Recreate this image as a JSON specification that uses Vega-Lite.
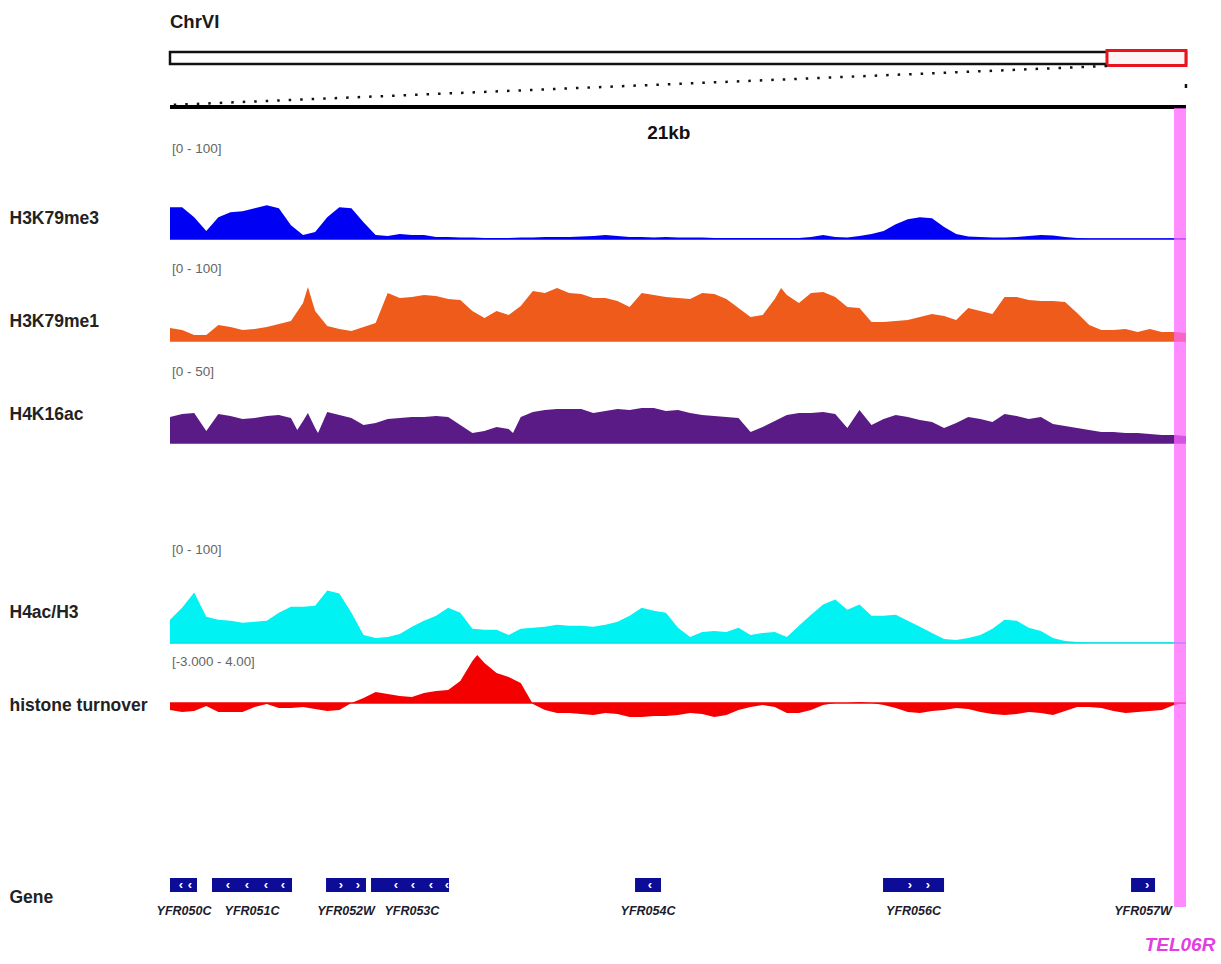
{
"$schema": "https://vega.github.io/schema/vega-lite/v6.json",
"padding": {"left": 9, "top": 0, "right": 0, "bottom": 0},
"spacing": 0,
"bounds": "flush",
"background": "white",
"datasets": {
"chrom": [{"chrom": "ChrVI", "start": 0, "end": 270161}],
"view": [{"start": 249150, "end": 270150}],
"telomere": [{"feature": "TEL06R", "start": 269903, "end": 270150, "mid": 270026}],
"genes": [
{"name": "YFR050C", "start": 249150, "end": 249708, "mid": 249440},
{"name": "YFR051C", "start": 250018, "end": 251672, "mid": 250845},
{"name": "YFR052W", "start": 252375, "end": 253201, "mid": 252788},
{"name": "YFR053C", "start": 253305, "end": 254917, "mid": 254150},
{"name": "YFR054C", "start": 258762, "end": 259299, "mid": 259030},
{"name": "YFR056C", "start": 263888, "end": 265149, "mid": 264518},
{"name": "YFR057W", "start": 269014, "end": 269510, "mid": 269262}
],
"arrows": [
{"gene": "YFR050C", "pos": 249377, "strand": "-"},
{"gene": "YFR050C", "pos": 249563, "strand": "-"},
{"gene": "YFR051C", "pos": 250349, "strand": "-"},
{"gene": "YFR051C", "pos": 250742, "strand": "-"},
{"gene": "YFR051C", "pos": 251134, "strand": "-"},
{"gene": "YFR051C", "pos": 251486, "strand": "-"},
{"gene": "YFR052W", "pos": 252685, "strand": "+"},
{"gene": "YFR052W", "pos": 253036, "strand": "+"},
{"gene": "YFR053C", "pos": 253821, "strand": "-"},
{"gene": "YFR053C", "pos": 254173, "strand": "-"},
{"gene": "YFR053C", "pos": 254545, "strand": "-"},
{"gene": "YFR053C", "pos": 254876, "strand": "-"},
{"gene": "YFR054C", "pos": 259072, "strand": "-"},
{"gene": "YFR056C", "pos": 264446, "strand": "+"},
{"gene": "YFR056C", "pos": 264818, "strand": "+"},
{"gene": "YFR057W", "pos": 269345, "strand": "+"}
],
"signal": [
{"pos":249150,"H3K79me3":32,"H3K79me1":16.3,"H4K16ac":16.5,"H4ac_H3":23,"turnover":-0.58},
{"pos":249400,"H3K79me3":32,"H3K79me1":13.8,"H4K16ac":18.4,"H4ac_H3":35,"turnover":-0.75},
{"pos":249650,"H3K79me3":22,"H3K79me1":7.5,"H4K16ac":19,"H4ac_H3":50,"turnover":-0.67},
{"pos":249900,"H3K79me3":8,"H3K79me1":7.5,"H4K16ac":7.6,"H4ac_H3":26,"turnover":-0.25},
{"pos":250150,"H3K79me3":22,"H3K79me1":20,"H4K16ac":18.4,"H4ac_H3":23,"turnover":-0.75},
{"pos":250400,"H3K79me3":27,"H3K79me1":17.5,"H4K16ac":17.1,"H4ac_H3":22,"turnover":-0.75},
{"pos":250650,"H3K79me3":28,"H3K79me1":13.8,"H4K16ac":15.2,"H4ac_H3":20,"turnover":-0.75},
{"pos":250900,"H3K79me3":31,"H3K79me1":15,"H4K16ac":15.8,"H4ac_H3":21,"turnover":-0.33},
{"pos":251150,"H3K79me3":34,"H3K79me1":17.5,"H4K16ac":17.1,"H4ac_H3":22,"turnover":-0.08},
{"pos":251400,"H3K79me3":31,"H3K79me1":21.3,"H4K16ac":17.7,"H4ac_H3":30,"turnover":-0.42},
{"pos":251650,"H3K79me3":14,"H3K79me1":25,"H4K16ac":15.8,"H4ac_H3":36,"turnover":-0.42},
{"pos":251780,"H4K16ac":8.2},
{"pos":251900,"H3K79me3":4,"H3K79me1":47.5,"H4K16ac":13.9,"H4ac_H3":36,"turnover":-0.33},
{"pos":252000,"H3K79me1":67.5,"H4K16ac":19},
{"pos":252150,"H3K79me3":7,"H3K79me1":37.5,"H4K16ac":9.5,"H4ac_H3":37,"turnover":-0.5},
{"pos":252210,"H4K16ac":6.3},
{"pos":252400,"H3K79me3":22,"H3K79me1":18.8,"H4K16ac":19.6,"H4ac_H3":52,"turnover":-0.67},
{"pos":252650,"H3K79me3":32,"H3K79me1":15,"H4K16ac":17.7,"H4ac_H3":49,"turnover":-0.58},
{"pos":252900,"H3K79me3":31,"H3K79me1":12.5,"H4K16ac":15.8,"H4ac_H3":30,"turnover":0},
{"pos":253150,"H3K79me3":17,"H3K79me1":17.5,"H4K16ac":11.4,"H4ac_H3":8,"turnover":0.42},
{"pos":253400,"H3K79me3":4,"H3K79me1":22.5,"H4K16ac":12.7,"H4ac_H3":5,"turnover":0.92},
{"pos":253650,"H3K79me3":3,"H3K79me1":60,"H4K16ac":15.2,"H4ac_H3":6,"turnover":0.75},
{"pos":253900,"H3K79me3":5,"H3K79me1":53.8,"H4K16ac":15.8,"H4ac_H3":9,"turnover":0.58},
{"pos":254150,"H3K79me3":4,"H3K79me1":55,"H4K16ac":16.5,"H4ac_H3":16,"turnover":0.5},
{"pos":254400,"H3K79me3":4,"H3K79me1":57.5,"H4K16ac":16.5,"H4ac_H3":22,"turnover":0.83},
{"pos":254650,"H3K79me3":2,"H3K79me1":56.3,"H4K16ac":17.1,"H4ac_H3":27,"turnover":1},
{"pos":254900,"H3K79me3":2,"H3K79me1":52.5,"H4K16ac":16.5,"H4ac_H3":35,"turnover":1.08},
{"pos":255150,"H3K79me3":1.5,"H3K79me1":51.3,"H4K16ac":11.4,"H4ac_H3":30,"turnover":1.83},
{"pos":255400,"H3K79me3":1.5,"H3K79me1":37.5,"H4K16ac":6.3,"H4ac_H3":14,"turnover":3.5},
{"pos":255500,"turnover":4.0},
{"pos":255650,"H3K79me3":1,"H3K79me1":28.8,"H4K16ac":7.6,"H4ac_H3":13,"turnover":3.33},
{"pos":255900,"H3K79me3":1,"H3K79me1":37.5,"H4K16ac":10.1,"H4ac_H3":13,"turnover":2.5},
{"pos":256150,"H3K79me3":1,"H3K79me1":32.5,"H4K16ac":8.9,"H4ac_H3":8,"turnover":2.17},
{"pos":256240,"H4K16ac":6.3},
{"pos":256400,"H3K79me3":1.5,"H3K79me1":43.8,"H4K16ac":16.5,"H4ac_H3":14,"turnover":1.67},
{"pos":256650,"H3K79me3":1.5,"H3K79me1":62.5,"H4K16ac":19.6,"H4ac_H3":15,"turnover":-0.08},
{"pos":256900,"H3K79me3":2,"H3K79me1":60,"H4K16ac":20.9,"H4ac_H3":16,"turnover":-0.58},
{"pos":257150,"H3K79me3":2,"H3K79me1":66.3,"H4K16ac":21.5,"H4ac_H3":18,"turnover":-0.83},
{"pos":257400,"H3K79me3":2,"H3K79me1":60,"H4K16ac":21.5,"H4ac_H3":17,"turnover":-0.83},
{"pos":257650,"H3K79me3":2.5,"H3K79me1":58.8,"H4K16ac":21.5,"H4ac_H3":17,"turnover":-0.92},
{"pos":257900,"H3K79me3":3,"H3K79me1":53.8,"H4K16ac":19,"H4ac_H3":16,"turnover":-1},
{"pos":258150,"H3K79me3":4,"H3K79me1":53.8,"H4K16ac":20.3,"H4ac_H3":18,"turnover":-0.83},
{"pos":258400,"H3K79me3":3,"H3K79me1":50,"H4K16ac":21.5,"H4ac_H3":21,"turnover":-0.92},
{"pos":258650,"H3K79me3":2,"H3K79me1":42.5,"H4K16ac":20.9,"H4ac_H3":27,"turnover":-1.17},
{"pos":258900,"H3K79me3":2,"H3K79me1":60,"H4K16ac":22.2,"H4ac_H3":35,"turnover":-1.17},
{"pos":259150,"H3K79me3":1.5,"H3K79me1":57.5,"H4K16ac":22.2,"H4ac_H3":32,"turnover":-1.08},
{"pos":259400,"H3K79me3":2,"H3K79me1":55,"H4K16ac":20.3,"H4ac_H3":30,"turnover":-1.08},
{"pos":259650,"H3K79me3":1.5,"H3K79me1":53.8,"H4K16ac":20.9,"H4ac_H3":15,"turnover":-1},
{"pos":259900,"H3K79me3":1.5,"H3K79me1":52.5,"H4K16ac":19,"H4ac_H3":6,"turnover":-0.83},
{"pos":260150,"H3K79me3":1.5,"H3K79me1":60,"H4K16ac":17.7,"H4ac_H3":11,"turnover":-0.92},
{"pos":260400,"H3K79me3":1,"H3K79me1":58.8,"H4K16ac":17.1,"H4ac_H3":12,"turnover":-1.17},
{"pos":260650,"H3K79me3":1,"H3K79me1":52.5,"H4K16ac":16.5,"H4ac_H3":11,"turnover":-1},
{"pos":260900,"H3K79me3":1,"H3K79me1":41.3,"H4K16ac":15.8,"H4ac_H3":15,"turnover":-0.58},
{"pos":261150,"H3K79me3":1,"H3K79me1":30,"H4K16ac":7,"H4ac_H3":8,"turnover":-0.33},
{"pos":261400,"H3K79me3":1,"H3K79me1":32.5,"H4K16ac":10.1,"H4ac_H3":10,"turnover":-0.17},
{"pos":261650,"H3K79me3":1,"H3K79me1":52.5,"H4K16ac":13.9,"H4ac_H3":11,"turnover":-0.33},
{"pos":261780,"H3K79me1":66.3},
{"pos":261900,"H3K79me3":1,"H3K79me1":57.5,"H4K16ac":17.7,"H4ac_H3":6,"turnover":-0.83},
{"pos":262150,"H3K79me3":1,"H3K79me1":47.5,"H4K16ac":19,"H4ac_H3":17,"turnover":-0.83},
{"pos":262400,"H3K79me3":2,"H3K79me1":60,"H4K16ac":19,"H4ac_H3":28,"turnover":-0.58},
{"pos":262650,"H3K79me3":4,"H3K79me1":61.3,"H4K16ac":19.6,"H4ac_H3":38,"turnover":-0.17},
{"pos":262900,"H3K79me3":2,"H3K79me1":55,"H4K16ac":18.4,"H4ac_H3":43,"turnover":0},
{"pos":263150,"H3K79me3":1.5,"H3K79me1":42.5,"H4K16ac":9.5,"H4ac_H3":33,"turnover":0},
{"pos":263400,"H3K79me3":3,"H3K79me1":41.3,"H4K16ac":20.9,"H4ac_H3":38,"turnover":0.08},
{"pos":263650,"H3K79me3":5,"H3K79me1":23.8,"H4K16ac":11.4,"H4ac_H3":27,"turnover":0},
{"pos":263900,"H3K79me3":8,"H3K79me1":23.8,"H4K16ac":15.2,"H4ac_H3":27,"turnover":-0.17},
{"pos":264150,"H3K79me3":15,"H3K79me1":25,"H4K16ac":17.7,"H4ac_H3":28,"turnover":-0.42},
{"pos":264400,"H3K79me3":20,"H3K79me1":26.3,"H4K16ac":16.5,"H4ac_H3":22,"turnover":-0.75},
{"pos":264650,"H3K79me3":22,"H3K79me1":30,"H4K16ac":14.6,"H4ac_H3":16,"turnover":-0.83},
{"pos":264900,"H3K79me3":21,"H3K79me1":33.8,"H4K16ac":13.3,"H4ac_H3":10,"turnover":-0.67},
{"pos":265150,"H3K79me3":12,"H3K79me1":31.3,"H4K16ac":9.5,"H4ac_H3":4,"turnover":-0.58},
{"pos":265400,"H3K79me3":5,"H3K79me1":26.3,"H4K16ac":12.7,"H4ac_H3":3,"turnover":-0.42},
{"pos":265650,"H3K79me3":2.5,"H3K79me1":41.3,"H4K16ac":16.5,"H4ac_H3":5,"turnover":-0.5},
{"pos":265900,"H3K79me3":2,"H3K79me1":37.5,"H4K16ac":15.2,"H4ac_H3":8,"turnover":-0.75},
{"pos":266150,"H3K79me3":1.5,"H3K79me1":33.8,"H4K16ac":13.3,"H4ac_H3":14,"turnover":-0.92},
{"pos":266400,"H3K79me3":1.5,"H3K79me1":55,"H4K16ac":18.4,"H4ac_H3":23,"turnover":-1},
{"pos":266650,"H3K79me3":2,"H3K79me1":55,"H4K16ac":17.1,"H4ac_H3":22,"turnover":-0.92},
{"pos":266900,"H3K79me3":3,"H3K79me1":51.3,"H4K16ac":15.2,"H4ac_H3":15,"turnover":-0.75},
{"pos":267150,"H3K79me3":4,"H3K79me1":50,"H4K16ac":16.5,"H4ac_H3":12,"turnover":-0.83},
{"pos":267400,"H3K79me3":3.5,"H3K79me1":50,"H4K16ac":12,"H4ac_H3":5,"turnover":-1},
{"pos":267650,"H3K79me3":2,"H3K79me1":48.8,"H4K16ac":10.8,"H4ac_H3":2,"turnover":-0.67},
{"pos":267900,"H3K79me3":1,"H3K79me1":35,"H4K16ac":9.5,"H4ac_H3":1,"turnover":-0.33},
{"pos":268150,"H3K79me3":0.5,"H3K79me1":20,"H4K16ac":8.2,"H4ac_H3":0.5,"turnover":-0.33},
{"pos":268400,"H3K79me3":0.5,"H3K79me1":13.8,"H4K16ac":7,"H4ac_H3":0.5,"turnover":-0.42},
{"pos":268650,"H3K79me3":0.5,"H3K79me1":13.8,"H4K16ac":7,"H4ac_H3":0.5,"turnover":-0.67},
{"pos":268900,"H3K79me3":0.5,"H3K79me1":15,"H4K16ac":6.3,"H4ac_H3":0.5,"turnover":-0.83},
{"pos":269150,"H3K79me3":0.5,"H3K79me1":11.3,"H4K16ac":6.3,"H4ac_H3":0.5,"turnover":-0.75},
{"pos":269400,"H3K79me3":0.5,"H3K79me1":15,"H4K16ac":5.7,"H4ac_H3":0.5,"turnover":-0.67},
{"pos":269650,"H3K79me3":0.5,"H3K79me1":11.3,"H4K16ac":5.1,"H4ac_H3":0.5,"turnover":-0.58},
{"pos":269900,"H3K79me3":0.5,"H3K79me1":11.3,"H4K16ac":5.1,"H4ac_H3":0.5,"turnover":-0.17},
{"pos":270150,"H3K79me3":0.5,"H3K79me1":10,"H4K16ac":4.4,"H4ac_H3":0.5,"turnover":0}
]
},
"vconcat": [
{
"width": 1016, "height": 108,
"layer": [
{"data": {"name": "chrom"}, "mark": {"type": "text", "align": "left", "baseline": "middle", "fontSize": 18.5, "fontWeight": "bold", "color": "#1a1a1a"},
 "encoding": {"x": {"field": "start", "type": "quantitative", "scale": {"domain": [0, 270161], "nice": false, "zero": false}, "axis": null},
  "y": {"datum": 22, "scale": {"domain": [0, 108], "reverse": true, "nice": false, "zero": false}, "axis": null},
  "text": {"field": "chrom"}}},
{"data": {"name": "chrom"}, "mark": {"type": "rect", "fill": "white", "stroke": "#111111", "strokeWidth": 2.5},
 "encoding": {"x": {"field": "start", "type": "quantitative", "scale": {"domain": [0, 270161], "nice": false, "zero": false}, "axis": null}, "x2": {"field": "end"},
  "y": {"datum": 52, "scale": {"domain": [0, 108], "reverse": true, "nice": false, "zero": false}, "axis": null}, "y2": {"datum": 64}}},
{"data": {"name": "view"}, "mark": {"type": "rect", "fill": "#fff4f4", "stroke": "#e8141c", "strokeWidth": 3},
 "encoding": {"x": {"field": "start", "type": "quantitative", "scale": {"domain": [0, 270161], "nice": false, "zero": false}, "axis": null}, "x2": {"field": "end"},
  "y": {"datum": 50.5, "scale": {"domain": [0, 108], "reverse": true, "nice": false, "zero": false}, "axis": null}, "y2": {"datum": 65.5}}},
{"data": {"name": "view"}, "mark": {"type": "rule", "color": "#111111", "strokeWidth": 2.5, "strokeDash": [2.5, 9]},
 "encoding": {"x": {"field": "start", "type": "quantitative", "scale": {"domain": [0, 270161], "nice": false, "zero": false}, "axis": null}, "x2": {"datum": 0},
  "y": {"datum": 66, "scale": {"domain": [0, 108], "reverse": true, "nice": false, "zero": false}, "axis": null}, "y2": {"datum": 105}}},
{"data": {"name": "view"}, "mark": {"type": "rule", "color": "#111111", "strokeWidth": 2.5, "strokeDash": [4, 30]},
 "encoding": {"x": {"field": "end", "type": "quantitative", "scale": {"domain": [0, 270161], "nice": false, "zero": false}, "axis": null},
  "y": {"datum": 84, "scale": {"domain": [0, 108], "reverse": true, "nice": false, "zero": false}, "axis": null}, "y2": {"datum": 104}}},
{"data": {"name": "chrom"}, "mark": {"type": "rule", "color": "#000000", "strokeWidth": 4},
 "encoding": {"x": {"field": "start", "type": "quantitative", "scale": {"domain": [0, 270161], "nice": false, "zero": false}, "axis": null}, "x2": {"field": "end"},
  "y": {"datum": 107, "scale": {"domain": [0, 108], "reverse": true, "nice": false, "zero": false}, "axis": null}}}
]
},
{
"width": 1016, "height": 131,
"data": {"name": "signal"},
"layer": [
{"mark": {"type": "area", "color": "#0000f5", "invalid": "filter"},
 "encoding": {"x": {"field": "pos", "type": "quantitative", "scale": {"domain": [249150, 270150], "nice": false, "zero": false}, "axis": null},
  "y": {"field": "H3K79me3", "type": "quantitative", "scale": {"domain": [0, 132.3], "nice": false}, "axis": {"title": "H3K79me3", "titleY": 110}},
  "y2": {"datum": 0}}},
{"data": {"values": [{}]}, "mark": {"type": "rule", "color": "#0000f5", "strokeWidth": 1.5},
 "encoding": {"y": {"datum": 0, "scale": {"domain": [0, 132.3], "nice": false}}}},
{"data": {"values": [{"range": "[0 - 100]"}]}, "mark": {"type": "text", "align": "left", "baseline": "top", "dy": 2, "fontSize": 13.5, "color": "#666666"},
 "encoding": {"x": {"datum": 249190, "type": "quantitative", "scale": {"domain": [249150, 270150], "nice": false, "zero": false}, "axis": null},
  "y": {"datum": 100, "scale": {"domain": [0, 132.3], "nice": false}}, "text": {"field": "range"}}},
{"data": {"values": [{"span": "21kb"}]}, "mark": {"type": "text", "align": "center", "baseline": "middle", "fontSize": 19, "fontWeight": "bold", "color": "#111111"},
 "encoding": {"x": {"datum": 259460, "type": "quantitative", "scale": {"domain": [249150, 270150], "nice": false, "zero": false}, "axis": null},
  "y": {"datum": 107, "scale": {"domain": [0, 132.3], "nice": false}}, "text": {"field": "span"}}},
{"data": {"name": "telomere"}, "mark": {"type": "rect", "color": "#ff66ff", "opacity": 0.75},
 "encoding": {"x": {"field": "start", "type": "quantitative", "scale": {"domain": [249150, 270150], "nice": false, "zero": false}, "axis": null}, "x2": {"field": "end"},
  "y": {"datum": 0, "scale": {"domain": [0, 132.3], "nice": false}}, "y2": {"datum": 132.3}}}
]
},
{
"width": 1016, "height": 102,
"data": {"name": "signal"},
"layer": [
{"mark": {"type": "area", "color": "#ef5b1b", "invalid": "filter"},
 "encoding": {"x": {"field": "pos", "type": "quantitative", "scale": {"domain": [249150, 270150], "nice": false, "zero": false}, "axis": null},
  "y": {"field": "H3K79me1", "type": "quantitative", "scale": {"domain": [0, 127.5], "nice": false}, "axis": {"title": "H3K79me1", "titleY": 82}},
  "y2": {"datum": 0}}},
{"data": {"values": [{}]}, "mark": {"type": "rule", "color": "#ef5b1b", "strokeWidth": 1.5},
 "encoding": {"y": {"datum": 0, "scale": {"domain": [0, 127.5], "nice": false}}}},
{"data": {"values": [{"range": "[0 - 100]"}]}, "mark": {"type": "text", "align": "left", "baseline": "top", "dy": 1, "fontSize": 13.5, "color": "#666666"},
 "encoding": {"x": {"datum": 249190, "type": "quantitative", "scale": {"domain": [249150, 270150], "nice": false, "zero": false}, "axis": null},
  "y": {"datum": 100, "scale": {"domain": [0, 127.5], "nice": false}}, "text": {"field": "range"}}},
{"data": {"name": "telomere"}, "mark": {"type": "rect", "color": "#ff66ff", "opacity": 0.75},
 "encoding": {"x": {"field": "start", "type": "quantitative", "scale": {"domain": [249150, 270150], "nice": false, "zero": false}, "axis": null}, "x2": {"field": "end"},
  "y": {"datum": 0, "scale": {"domain": [0, 127.5], "nice": false}}, "y2": {"datum": 127.5}}}
]
},
{
"width": 1016, "height": 102,
"data": {"name": "signal"},
"layer": [
{"mark": {"type": "area", "color": "#5b1b86", "invalid": "filter"},
 "encoding": {"x": {"field": "pos", "type": "quantitative", "scale": {"domain": [249150, 270150], "nice": false, "zero": false}, "axis": null},
  "y": {"field": "H4K16ac", "type": "quantitative", "scale": {"domain": [0, 64.56], "nice": false}, "axis": {"title": "H4K16ac", "titleY": 73}},
  "y2": {"datum": 0}}},
{"data": {"values": [{}]}, "mark": {"type": "rule", "color": "#5b1b86", "strokeWidth": 1.5},
 "encoding": {"y": {"datum": 0, "scale": {"domain": [0, 64.56], "nice": false}}}},
{"data": {"values": [{"range": "[0 - 50]"}]}, "mark": {"type": "text", "align": "left", "baseline": "top", "dy": 1, "fontSize": 13.5, "color": "#666666"},
 "encoding": {"x": {"datum": 249190, "type": "quantitative", "scale": {"domain": [249150, 270150], "nice": false, "zero": false}, "axis": null},
  "y": {"datum": 50, "scale": {"domain": [0, 64.56], "nice": false}}, "text": {"field": "range"}}},
{"data": {"name": "telomere"}, "mark": {"type": "rect", "color": "#ff66ff", "opacity": 0.75},
 "encoding": {"x": {"field": "start", "type": "quantitative", "scale": {"domain": [249150, 270150], "nice": false, "zero": false}, "axis": null}, "x2": {"field": "end"},
  "y": {"datum": 0, "scale": {"domain": [0, 64.56], "nice": false}}, "y2": {"datum": 64.56}}}
]
},
{
"width": 1016, "height": 200,
"data": {"name": "signal"},
"layer": [
{"mark": {"type": "area", "color": "#00f2f2", "invalid": "filter"},
 "encoding": {"x": {"field": "pos", "type": "quantitative", "scale": {"domain": [249150, 270150], "nice": false, "zero": false}, "axis": null},
  "y": {"field": "H4ac_H3", "type": "quantitative", "scale": {"domain": [0, 198], "nice": false}, "axis": {"title": "H4ac/H3", "titleY": 169}},
  "y2": {"datum": 0}}},
{"data": {"values": [{}]}, "mark": {"type": "rule", "color": "#00e0e0", "strokeWidth": 1.5},
 "encoding": {"y": {"datum": 0, "scale": {"domain": [0, 198], "nice": false}}}},
{"data": {"values": [{"range": "[0 - 100]"}]}, "mark": {"type": "text", "align": "left", "baseline": "top", "dy": 1, "fontSize": 13.5, "color": "#666666"},
 "encoding": {"x": {"datum": 249190, "type": "quantitative", "scale": {"domain": [249150, 270150], "nice": false, "zero": false}, "axis": null},
  "y": {"datum": 100, "scale": {"domain": [0, 198], "nice": false}}, "text": {"field": "range"}}},
{"data": {"name": "telomere"}, "mark": {"type": "rect", "color": "#ff66ff", "opacity": 0.75},
 "encoding": {"x": {"field": "start", "type": "quantitative", "scale": {"domain": [249150, 270150], "nice": false, "zero": false}, "axis": null}, "x2": {"field": "end"},
  "y": {"datum": 0, "scale": {"domain": [0, 198], "nice": false}}, "y2": {"datum": 198}}}
]
},
{
"width": 1016, "height": 117,
"data": {"name": "signal"},
"layer": [
{"mark": {"type": "area", "color": "#f50000", "invalid": "filter"},
 "encoding": {"x": {"field": "pos", "type": "quantitative", "scale": {"domain": [249150, 270150], "nice": false, "zero": false}, "axis": null},
  "y": {"field": "turnover", "type": "quantitative", "scale": {"domain": [-4.75, 5], "nice": false, "zero": false}, "axis": {"title": "histone turnover", "titleY": 62}},
  "y2": {"datum": 0}}},
{"data": {"values": [{}]}, "mark": {"type": "rule", "color": "#f50000", "strokeWidth": 1.5},
 "encoding": {"y": {"datum": 0, "scale": {"domain": [-4.75, 5], "nice": false, "zero": false}}}},
{"data": {"values": [{"range": "[-3.000 - 4.00]"}]}, "mark": {"type": "text", "align": "left", "baseline": "top", "dy": 0, "fontSize": 13.3, "color": "#666666"},
 "encoding": {"x": {"datum": 249190, "type": "quantitative", "scale": {"domain": [249150, 270150], "nice": false, "zero": false}, "axis": null},
  "y": {"datum": 4, "scale": {"domain": [-4.75, 5], "nice": false, "zero": false}}, "text": {"field": "range"}}},
{"data": {"name": "telomere"}, "mark": {"type": "rect", "color": "#ff66ff", "opacity": 0.75},
 "encoding": {"x": {"field": "start", "type": "quantitative", "scale": {"domain": [249150, 270150], "nice": false, "zero": false}, "axis": null}, "x2": {"field": "end"},
  "y": {"datum": -4.75, "scale": {"domain": [-4.75, 5], "nice": false, "zero": false}}, "y2": {"datum": 5}}}
]
},
{
"width": 1016, "height": 204,
"layer": [
{"data": {"name": "telomere"}, "mark": {"type": "rect", "color": "#ff66ff", "opacity": 0.75},
 "encoding": {"x": {"field": "start", "type": "quantitative", "scale": {"domain": [249150, 270150], "nice": false, "zero": false}, "axis": null}, "x2": {"field": "end"},
  "y": {"datum": 0, "scale": {"domain": [0, 204], "reverse": true, "nice": false, "zero": false}}, "y2": {"datum": 147}}},
{"data": {"name": "genes"}, "mark": {"type": "rect", "color": "#0c0c96"},
 "encoding": {"x": {"field": "start", "type": "quantitative", "scale": {"domain": [249150, 270150], "nice": false, "zero": false}, "axis": null}, "x2": {"field": "end"},
  "y": {"datum": 118, "scale": {"domain": [0, 204], "reverse": true, "nice": false, "zero": false}, "axis": {"title": "Gene", "titleY": 137}}, "y2": {"datum": 132}}},
{"data": {"name": "arrows"}, "mark": {"type": "text", "color": "white", "fontSize": 13, "fontWeight": "bold", "align": "center", "baseline": "middle"},
 "encoding": {"x": {"field": "pos", "type": "quantitative", "scale": {"domain": [249150, 270150], "nice": false, "zero": false}, "axis": null},
  "y": {"datum": 125, "scale": {"domain": [0, 204], "reverse": true, "nice": false, "zero": false}},
  "text": {"condition": {"test": "datum.strand === '+'", "value": "›"}, "value": "‹"}}},
{"data": {"name": "genes"}, "mark": {"type": "text", "fontSize": 12.5, "fontWeight": "bold", "fontStyle": "italic", "color": "#1c1c2c", "align": "center", "baseline": "middle"},
 "encoding": {"x": {"field": "mid", "type": "quantitative", "scale": {"domain": [249150, 270150], "nice": false, "zero": false}, "axis": null},
  "y": {"datum": 151, "scale": {"domain": [0, 204], "reverse": true, "nice": false, "zero": false}},
  "text": {"field": "name"}}},
{"data": {"name": "telomere"}, "mark": {"type": "text", "fontSize": 19, "fontWeight": "bold", "fontStyle": "italic", "color": "#e23ee2", "align": "center", "baseline": "middle"},
 "encoding": {"x": {"field": "mid", "type": "quantitative", "scale": {"domain": [249150, 270150], "nice": false, "zero": false}, "axis": null},
  "y": {"datum": 185, "scale": {"domain": [0, 204], "reverse": true, "nice": false, "zero": false}},
  "text": {"field": "feature"}}}
]
}
],
"config": {
"font": "Liberation Sans, Arial, sans-serif",
"view": {"stroke": null},
"axisY": {"labels": false, "ticks": false, "domain": false, "grid": false, "titleAngle": 0, "titleAlign": "left", "titleBaseline": "middle", "titleX": -161, "titleFontSize": 17.5, "titleFontWeight": "bold", "titleColor": "#222222", "titlePadding": 0}
}
}
